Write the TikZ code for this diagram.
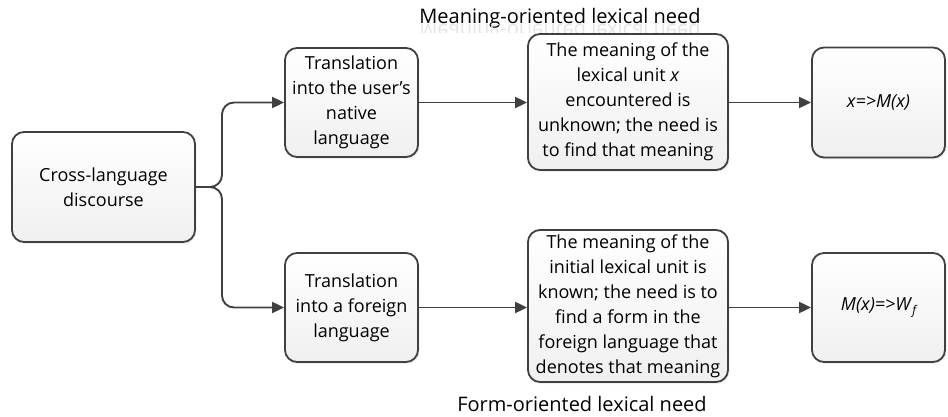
\documentclass[tikz,border=0pt]{standalone}
\usepackage{fontspec}
\setmainfont{Open Sans}
\usetikzlibrary{arrows.meta,shadows}
\begin{document}
\begin{tikzpicture}[x=1pt,y=-1pt,
  box/.style={draw=black!75, line width=1.8pt, rounded corners=12pt,
    top color=white, bottom color=black!6,
    drop shadow={opacity=0.12, shadow xshift=1.5pt, shadow yshift=-2pt},
    align=center, inner sep=0pt, font=\fontsize{18}{25}\selectfont},
  link/.style={draw=black!75, line width=1.9pt, -{Triangle[length=12pt,width=11pt]}},
  caption/.style={font=\fontsize{20}{24}\selectfont, anchor=base},
  ghost/.style={caption, text=black!10}]
  \useasboundingbox (0,0) rectangle (948,417);

  % heading with its faint mirrored copy, clipped to a thin strip
  \node[caption] (meanlbl) at (560,24) {Meaning-oriented lexical need};
  \begin{scope}
    \clip (400,24.5) rectangle (720,33);
    \node[ghost] (meanrefl) at (560,25)
      {\scalebox{1}[-1]{Meaning-oriented lexical need}};
  \end{scope}

  % boxes
  \node[box, minimum width=183pt, minimum height=110pt] (src) at (103.5,187) {Cross-language\\discourse};
  \node[box, minimum width=133pt, minimum height=109pt] (nat) at (351.5,102.5) {Translation\\into the user's\\native\\language};
  \node[box, minimum width=133pt, minimum height=109pt] (for) at (351.5,307.5) {Translation\\into a foreign\\language};
  \node[box, minimum width=200pt, minimum height=136pt] (mean) at (628,102) {The meaning of the\\lexical unit \textit{x}\\encountered is\\unknown; the need is\\to find that meaning};
  \node[box, minimum width=200pt, minimum height=152pt] (form) at (628,306) {The meaning of the\\initial lexical unit is\\known; the need is to\\find a form in the\\foreign language that\\denotes that meaning};
  \node[box, minimum width=133pt, minimum height=110pt] (mx) at (878.5,102.5) {\textit{x=>M(x)}};
  \node[box, minimum width=133pt, minimum height=109pt] (wf) at (878.5,307.5) {\textit{M(x)=>W}\raisebox{-0.35ex}{\fontsize{12}{12}\selectfont\itshape f}};

  % bottom caption
  \node[caption] (formlbl) at (582,411) {Form-oriented lexical need};

  % connectors
  \coordinate (fork) at (222,187);
  \draw[link, rounded corners=12pt] (src.east) -- (fork) |- (nat.west);
  \draw[link, rounded corners=12pt] (src.east) -- (fork) |- (for.west);
  \draw[link] (nat.east) -- (nat.east -| mean.west);
  \draw[link] (for.east) -- (for.east -| form.west);
  \draw[link] (mean.east |- mx.west) -- (mx.west);
  \draw[link] (form.east |- wf.west) -- (wf.west);
\end{tikzpicture}
\end{document}
